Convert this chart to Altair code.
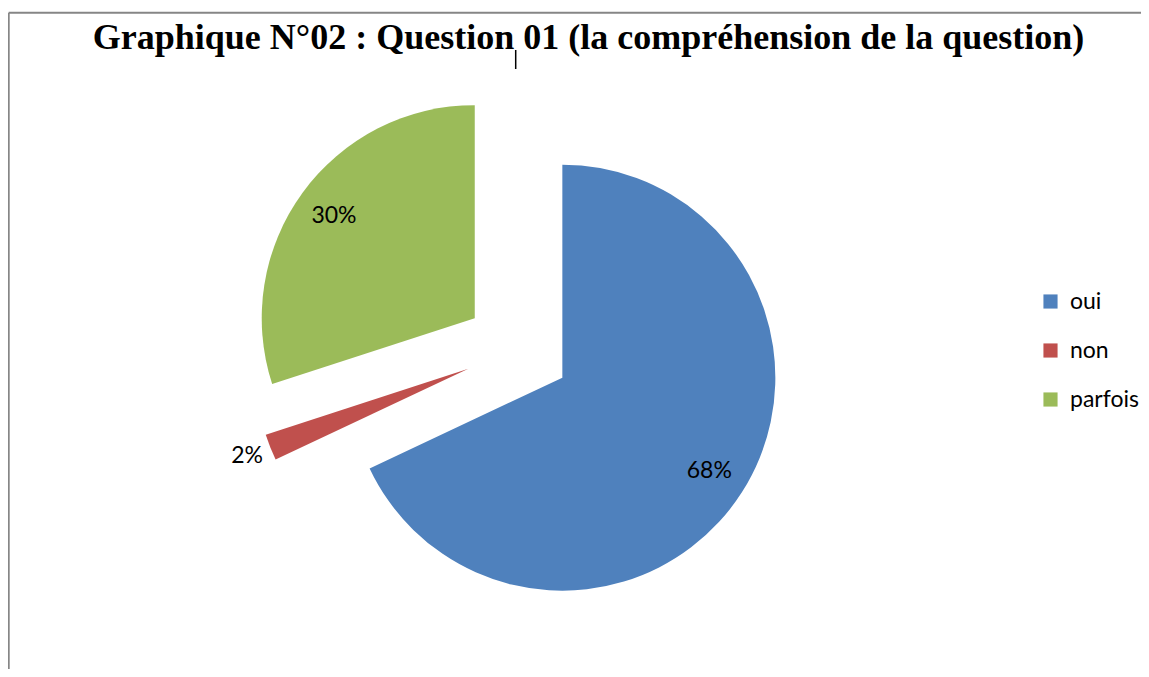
import altair as alt
import pandas as pd

# ---- data ----
categories = ["oui", "non", "parfois"]
values = [68, 2, 30]
colors = ["#4F81BD", "#C0504D", "#9BBB59"]
title_text = "Graphique N°02 : Question 01 (la compréhension de la question)"

df = pd.DataFrame({"cat": categories, "val": values, "idx": list(range(len(categories)))})

# ---- layout parameters (chart pixels) ----
CX, CY = 509.6, 341.3   # centre of the un-exploded pie
R = 213                 # pie radius
EXPLODE = 53            # explosion distance for every slice
W, H = 1133, 661

base = (
    alt.Chart(df)
    .transform_window(cum="sum(val)", sort=[alt.SortField("idx")], frame=[None, 0])
    .transform_joinaggregate(total="sum(val)")
    .transform_calculate(mid="2*PI*(datum.cum - datum.val/2)/datum.total")
    .transform_calculate(
        px=f"{CX} + {EXPLODE}*sin(datum.mid)",
        py=f"{CY} - {EXPLODE}*cos(datum.mid)",
        lr="datum.val/datum.total < 0.05 ? 238 : 174",
        label="datum.val + '%'",
    )
    .transform_calculate(
        lx="datum.px + datum.lr*sin(datum.mid)",
        ly="datum.py - datum.lr*cos(datum.mid)",
    )
)

arcs = base.mark_arc(outerRadius=R).encode(
    theta=alt.Theta("val:Q", stack=True),
    order=alt.Order("idx:Q"),
    x=alt.X("px:Q", scale=None, axis=None),
    y=alt.Y("py:Q", scale=None, axis=None),
    color=alt.Color(
        "cat:N",
        sort=categories,
        scale=alt.Scale(domain=categories, range=colors),
        legend=alt.Legend(
            title=None,
            orient="none",
            legendX=1031,
            legendY=282,
            symbolType="square",
            symbolSize=200,
            symbolStrokeWidth=0,
            labelFont="Lato",
            labelFontSize=23,
            labelColor="black",
            labelOffset=8,
            rowPadding=25,
            padding=0,
        ),
    ),
)

labels = base.mark_text(font="Lato", fontSize=23, color="black").encode(
    x=alt.X("lx:Q", scale=None, axis=None),
    y=alt.Y("ly:Q", scale=None, axis=None),
    text="label:N",
)

title = alt.Chart(pd.DataFrame({"t": [title_text]})).mark_text(
    font="Liberation Serif", fontWeight="bold", fontSize=36, color="black",
    baseline="alphabetic", align="center"
).encode(text="t:N", x=alt.value(580.5), y=alt.value(41))

frame_df = pd.DataFrame({"k": [0]})
top_rule = alt.Chart(frame_df).mark_rule(color="#868686", strokeWidth=2).encode(
    x=alt.value(0.7), x2=alt.value(W), y=alt.value(4.7)
)
left_rule = alt.Chart(frame_df).mark_rule(color="#868686", strokeWidth=2).encode(
    x=alt.value(0.7), y=alt.value(4.7), y2=alt.value(H)
)
cursor = alt.Chart(frame_df).mark_rule(color="black", strokeWidth=1.5).encode(
    x=alt.value(507.7), y=alt.value(42), y2=alt.value(61)
)

chart = (
    alt.layer(top_rule, left_rule, arcs, labels, title, cursor)
    .properties(width=W, height=H, padding=0, autosize="none", background="white")
    .configure_view(stroke=None)
)

chart.save("out.html", embed_options={"renderer": "svg", "actions": False})
